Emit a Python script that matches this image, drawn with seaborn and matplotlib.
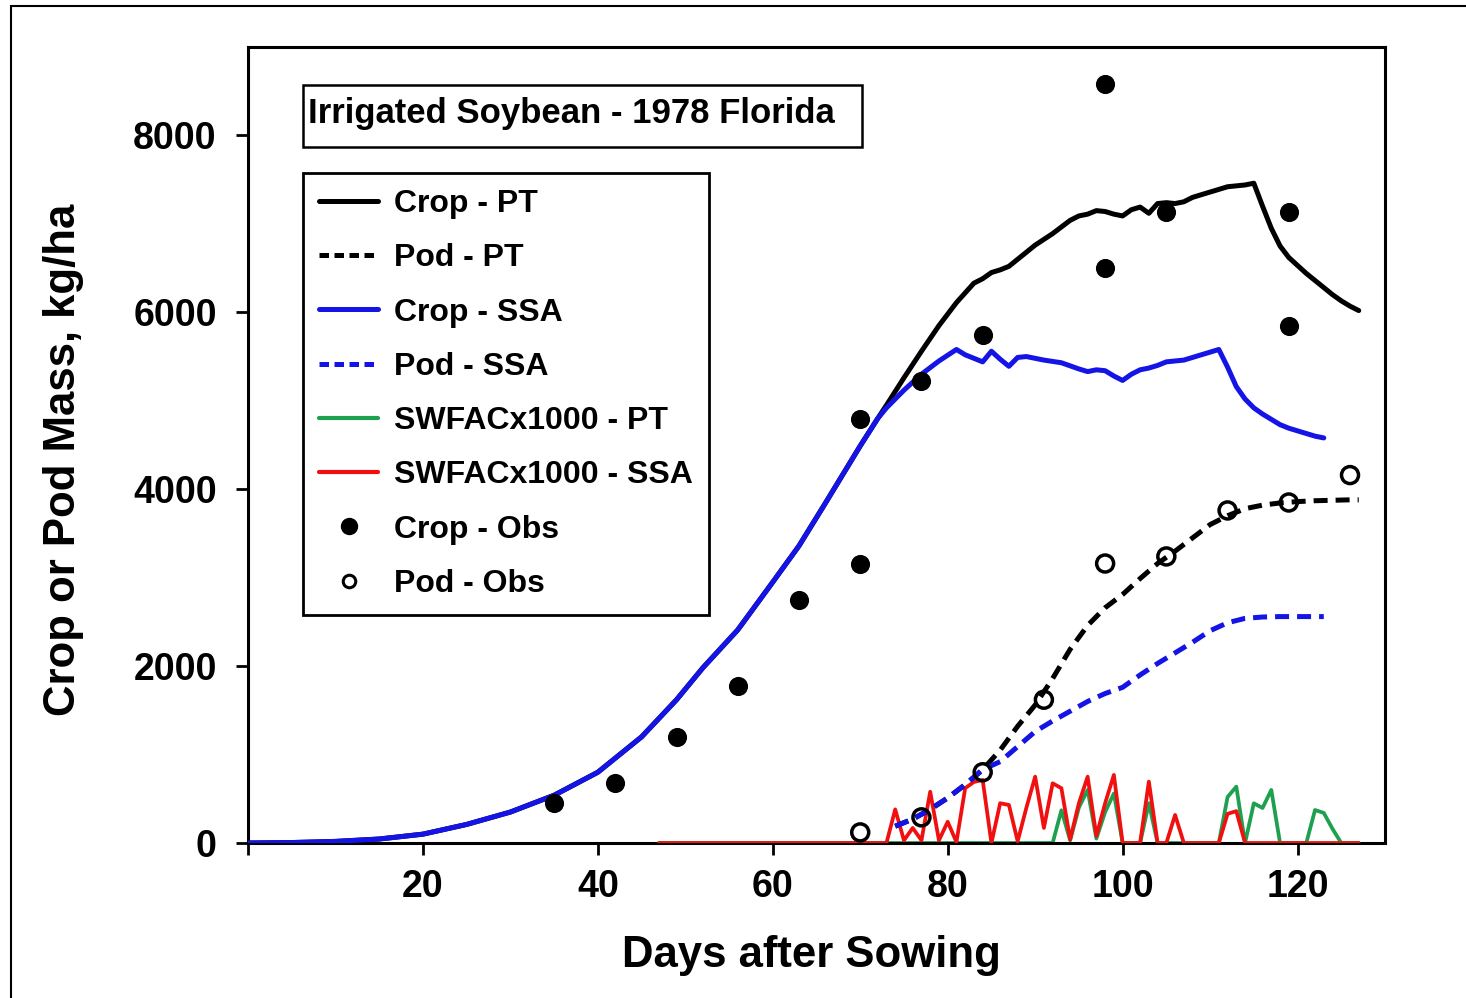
import numpy as np
import pandas as pd
import matplotlib
matplotlib.use("Agg")
import matplotlib.pyplot as plt
from matplotlib.lines import Line2D
from matplotlib.patches import Rectangle
import seaborn as sns

# ---------------- data ----------------
crop_pt_days = [0, 5, 10, 15, 20, 25, 30, 35, 40, 42, 45, 49, 52, 56, 60, 63, 66, 70, 72,
                73, 75, 77, 79, 81, 83, 84, 85, 86, 87, 88, 90, 92, 94, 95, 96, 97, 98, 99,
                100, 101, 102, 103, 104, 105, 106, 107, 108, 110, 112, 114, 115, 116, 117,
                118, 119, 120, 121, 122, 123, 124, 125, 126, 127]
crop_pt_vals = [0, 5, 18, 45, 100, 210, 350, 540, 800, 960, 1200, 1620, 1980, 2410, 2950, 3360, 3840, 4490, 4800,
                4950, 5260, 5560, 5850, 6110, 6330, 6380, 6450, 6480, 6520, 6600, 6760, 6890, 7040, 7090, 7110, 7150, 7140, 7110,
                7090, 7160, 7190, 7120, 7230, 7240, 7230, 7250, 7300, 7360, 7420, 7440, 7460, 7200, 6950,
                6750, 6620, 6530, 6440, 6360, 6280, 6200, 6130, 6070, 6020]

crop_ssa_days = [0, 5, 10, 15, 20, 25, 30, 35, 40, 42, 45, 49, 52, 56, 60, 63, 66, 70, 72,
                 73, 75, 77, 79, 81, 82, 83, 84, 85, 86, 87, 88, 89, 91, 93, 95, 96, 97, 98, 99,
                 100, 101, 102, 103, 104, 105, 107, 109, 111, 112, 113, 114, 115, 116, 117, 118,
                 119, 120, 121, 122, 123]
crop_ssa_vals = [0, 5, 18, 45, 100, 210, 350, 540, 800, 960, 1200, 1620, 1980, 2410, 2950, 3360, 3840, 4490, 4800,
                 4920, 5120, 5300, 5450, 5580, 5520, 5480, 5440, 5560, 5470, 5390, 5490, 5500, 5460, 5430, 5360, 5330, 5350, 5340, 5280,
                 5230, 5300, 5350, 5370, 5400, 5440, 5460, 5520, 5580, 5380, 5160, 5020, 4920, 4850, 4790, 4730,
                 4690, 4660, 4630, 4600, 4580]

pod_pt_days = [74, 76, 78, 80, 82, 84, 86, 88, 90, 92, 94, 96, 98, 100, 102, 104, 106, 108,
               110, 112, 114, 116, 118, 120, 122, 124, 126, 127]
pod_pt_vals = [190, 270, 380, 510, 660, 830, 1050, 1320, 1560, 1860, 2190, 2460, 2660, 2810, 2990, 3160, 3300, 3450,
               3600, 3700, 3780, 3820, 3845, 3860, 3870, 3875, 3880, 3880]

pod_ssa_days = [74, 76, 78, 80, 82, 84, 86, 88, 90, 92, 94, 96, 98, 100, 102, 104, 106, 108,
                110, 112, 114, 116, 118, 120, 123]
pod_ssa_vals = [190, 270, 380, 510, 660, 830, 920, 1090, 1260, 1380, 1490, 1600, 1690, 1760, 1900, 2030, 2150, 2270,
                2400, 2490, 2540, 2555, 2560, 2560, 2560]

swfac_days = list(range(47, 128))
swfac_pt_vals = ([0] * 46 +                     # days 47-92
                 [370, 30, 400, 600, 50, 350, 560,  # 93-99
                  0, 0, 0, 450, 0,                  # 100-104
                  0, 0, 0, 0, 0, 0, 0,              # 105-111
                  520, 637, 0, 449, 396, 600, 0,    # 112-118
                  0, 0, 0, 373, 340, 160, 0, 0, 0]) # 119-127
swfac_ssa_vals = ([0] * 27 +                    # days 47-73
                  [380, 30, 170, 30, 580, 30, 240, 10, 620, 690, 713,  # 74-84
                   0, 450, 430, 20, 400, 750, 170, 675, 620, 40,       # 85-94
                   450, 750, 80, 450, 770, 0, 0, 0, 694, 0,           # 95-104
                   0, 317, 0, 0, 0, 0, 0, 330, 360, 0,                 # 105-114
                   0, 0, 0, 0, 0, 0, 0, 0, 0, 0, 0, 0, 0])             # 115-127

crop_obs_days = [35, 42, 49, 56, 63, 70, 70, 77, 84, 98, 98, 105, 119, 119]
crop_obs_vals = [450, 680, 1200, 1780, 2750, 3150, 4790, 5220, 5740, 8580, 6500, 7130, 7130, 5850]
pod_obs_days = [70, 77, 84, 91, 98, 105, 112, 119, 126]
pod_obs_vals = [120, 290, 800, 1620, 3160, 3240, 3760, 3850, 4160]

labels = ["Crop - PT", "Pod - PT", "Crop - SSA", "Pod - SSA",
          "SWFACx1000 - PT", "SWFACx1000 - SSA", "Crop - Obs", "Pod - Obs"]
title_text = "Irrigated Soybean - 1978 Florida"
x_ticks = [0, 20, 40, 60, 80, 100, 120]
x_ticklabels = ["", "20", "40", "60", "80", "100", "120"]
y_ticks = [0, 2000, 4000, 6000, 8000]

# ---------------- style ----------------
sns.set_style("ticks")
plt.rcParams["font.family"] = ["Liberation Sans", "DejaVu Sans"]
plt.rcParams["font.weight"] = "bold"
plt.rcParams["text.color"] = "black"
plt.rcParams["axes.labelcolor"] = "black"
plt.rcParams["xtick.color"] = "black"
plt.rcParams["ytick.color"] = "black"

BLACK = "#000000"
BLUE = "#1414e6"
GREEN = "#1ea04f"
RED = "#f01010"
LW = 3.6
SW_LW = 2.7
DASH = (0, (2.8, 1.6))

W, H = 1466, 998
fig = plt.figure(figsize=(W / 100, H / 100), dpi=100)
fig.patch.set_facecolor("white")
ax = fig.add_axes([248 / W, 1 - 843 / H, (1385 - 248) / W, (843 - 47) / H])

# SWFAC lines
sns.lineplot(x=swfac_days, y=swfac_pt_vals, ax=ax, color=GREEN, linewidth=SW_LW, sort=False, zorder=2)
sns.lineplot(x=swfac_days, y=swfac_ssa_vals, ax=ax, color=RED, linewidth=SW_LW, sort=False, zorder=3)
# Crop / pod lines
sns.lineplot(x=crop_pt_days, y=crop_pt_vals, ax=ax, color=BLACK, linewidth=LW, sort=False, zorder=4)
sns.lineplot(x=crop_ssa_days, y=crop_ssa_vals, ax=ax, color=BLUE, linewidth=LW, sort=False, zorder=4)
sns.lineplot(x=pod_pt_days, y=pod_pt_vals, ax=ax, color=BLACK, linewidth=LW, sort=False, zorder=5,
             linestyle=DASH)
sns.lineplot(x=pod_ssa_days, y=pod_ssa_vals, ax=ax, color=BLUE, linewidth=LW, sort=False, zorder=5,
             linestyle=DASH)
# observations
sns.scatterplot(x=crop_obs_days, y=crop_obs_vals, ax=ax, color=BLACK, s=190,
                edgecolor=BLACK, linewidth=0, zorder=6)
sns.scatterplot(x=pod_obs_days, y=pod_obs_vals, ax=ax, facecolor="none", s=150,
                edgecolor=BLACK, linewidth=2.5, zorder=6)

ax.set_xlim(0, 130)
ax.set_ylim(0, 9000)
ax.set_xticks(x_ticks)
ax.set_xticklabels(x_ticklabels)
ax.set_yticks(y_ticks)
ax.set_yticklabels([str(v) for v in y_ticks])
for sp in ax.spines.values():
    sp.set_visible(True)
    sp.set_linewidth(2.2)
    sp.set_color("black")
ax.tick_params(axis="both", which="major", direction="out", length=8.5, width=2.0,
               labelsize=27, colors="black")
ax.tick_params(axis="y", pad=14)
ax.tick_params(axis="x", pad=10)
for lab in ax.get_xticklabels() + ax.get_yticklabels():
    lab.set_fontweight("bold")

ax.set_xlabel("Days after Sowing", fontsize=31.5, fontweight="bold")
ax.set_ylabel("Crop or Pod Mass, kg/ha", fontsize=31.5, fontweight="bold")
ax.xaxis.set_label_coords((811 - 248) / (1385 - 248), (843 - 935) / (843 - 47))
ax.yaxis.set_label_coords((84 - 248) / (1385 - 248), (843 - 460) / (843 - 47))

# legend
handles = [
    Line2D([], [], color=BLACK, lw=LW),
    Line2D([], [], color=BLACK, lw=LW, linestyle=(0, (1.9, 1.1))),
    Line2D([], [], color=BLUE, lw=LW),
    Line2D([], [], color=BLUE, lw=LW, linestyle=(0, (1.9, 1.1))),
    Line2D([], [], color=GREEN, lw=SW_LW + 0.3),
    Line2D([], [], color=RED, lw=SW_LW + 0.3),
    Line2D([], [], color=BLACK, marker="o", linestyle="none", markersize=11.5),
    Line2D([], [], color=BLACK, marker="o", linestyle="none", markersize=9,
           markerfacecolor="none", markeredgewidth=2.2),
]
leg = ax.legend(handles, labels, loc="upper left",
                bbox_to_anchor=(303 / W, 1 - 173 / H), bbox_transform=fig.transFigure,
                borderaxespad=0, frameon=True, fancybox=False,
                handlelength=1.85, handletextpad=0.5, labelspacing=0.76,
                borderpad=0.5, prop={"weight": "bold", "size": 23})
leg.get_frame().set_edgecolor("black")
leg.get_frame().set_linewidth(2.0)
leg.get_frame().set_facecolor("white")
leg.get_frame().set_alpha(1)
leg.set_zorder(10)

# title box
fig.add_artist(Rectangle((303 / W, 1 - 147 / H), (862 - 303) / W, (147 - 85) / H,
                         transform=fig.transFigure, facecolor="white", edgecolor="black",
                         linewidth=1.8, zorder=10))
fig.text(308 / W, 1 - 114 / H, title_text, fontsize=25, fontweight="bold",
         ha="left", va="center", zorder=11)

# outer frame (partial, as in the source image)
fig.add_artist(Rectangle((11 / W, -0.05), 1.2, 1.05 - 6 / H, transform=fig.transFigure,
                         facecolor="none", edgecolor="black", linewidth=1.5, clip_on=False))

fig.savefig("out.png", dpi=100, facecolor="white")
